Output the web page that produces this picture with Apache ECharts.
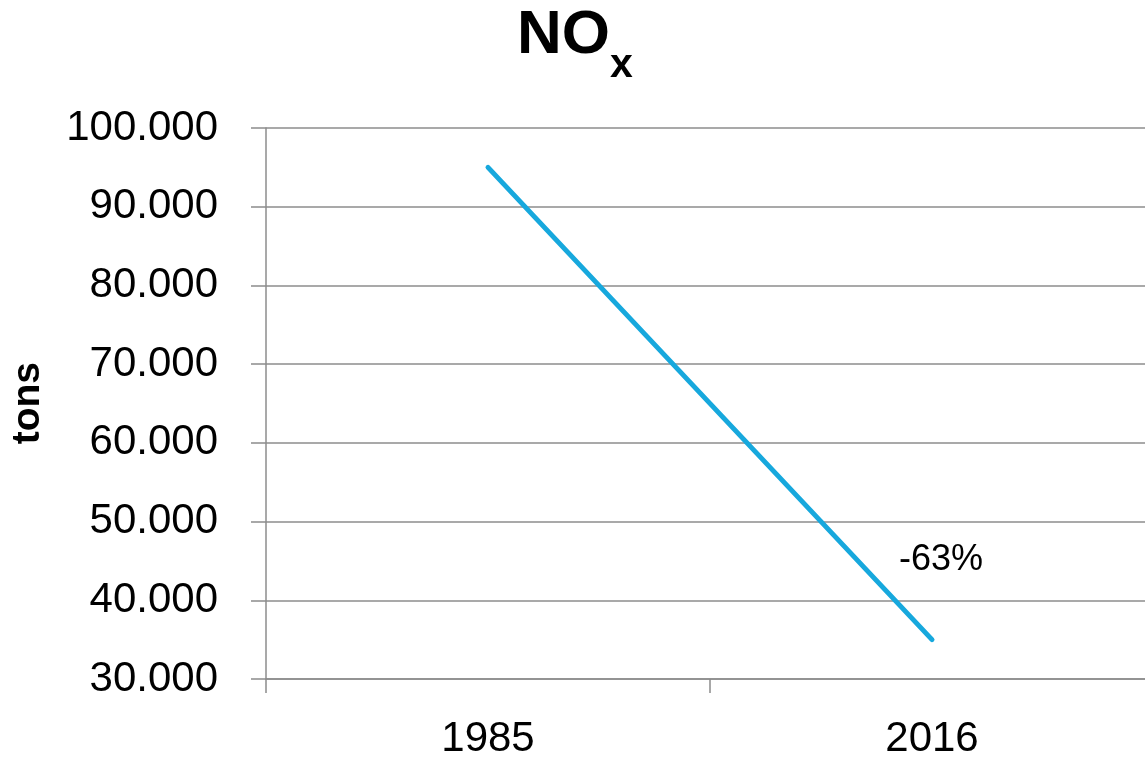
<!DOCTYPE html>
<html>
<head>
<meta charset="utf-8">
<script src="https://cdn.jsdelivr.net/npm/echarts@6/dist/echarts.min.js"></script>
<style>
html,body{margin:0;padding:0;background:#fff;overflow:hidden;width:1145px;height:760px;}
#chart{width:1154px;height:760px;}
</style>
</head>
<body>
<div id="chart"></div>
<script>
const categories = ['1985', '2016'];
const noxValues = [95000, 35000];
const yTicks = { min: 30000, max: 100000, interval: 10000 };
const titleMain = 'NO';
const titleSub = 'x';
const yAxisName = 'tons';

const changePct = Math.round((noxValues[1] - noxValues[0]) / noxValues[0] * 100);
const FONT = '"Liberation Sans", Arial, sans-serif';

function fmt(v) {
  return String(v).replace(/\B(?=(\d{3})+(?!\d))/g, '.');
}

const chart = echarts.init(document.getElementById('chart'), null, { renderer: 'canvas' });
chart.setOption({
  animation: false,
  backgroundColor: '#ffffff',
  grid: { left: 266, right: 0, top: 128, bottom: 80, containLabel: false },
  graphic: [
    { type: 'text', left: 517, top: 5, style: { text: titleMain, font: 'bold 62px ' + FONT, fill: '#000' } },
    { type: 'text', left: 610, top: 45, style: { text: titleSub, font: 'bold 41px ' + FONT, fill: '#000' } },
    { type: 'text', left: 9, top: 362, rotation: Math.PI / 2, style: { text: yAxisName, font: 'bold 39px ' + FONT, fill: '#000' } }
  ],
  xAxis: {
    type: 'category',
    data: categories,
    boundaryGap: true,
    axisLine: { show: true, lineStyle: { color: '#8c8c8c', width: 1.5 } },
    axisTick: { show: true, length: 14, inside: false, lineStyle: { color: '#8c8c8c', width: 1.5 } },
    axisLabel: { color: '#000', fontSize: 42, fontFamily: FONT, margin: 39 },
    splitLine: { show: false }
  },
  yAxis: {
    type: 'value',
    min: yTicks.min,
    max: yTicks.max,
    interval: yTicks.interval,
    axisLine: { show: true, lineStyle: { color: '#8c8c8c', width: 1.5 } },
    axisTick: { show: true, length: 15, lineStyle: { color: '#8c8c8c', width: 1.5 } },
    axisLabel: { color: '#000', fontSize: 42, fontFamily: FONT, margin: 48, formatter: fmt },
    splitLine: { show: true, lineStyle: { color: '#8c8c8c', width: 1.5 } }
  },
  series: [{
    type: 'line',
    data: noxValues.map((v, i) => i === noxValues.length - 1 ? {
      value: v,
      label: {
        show: true,
        formatter: changePct + '%',
        position: 'top',
        offset: [9, -56],
        color: '#000',
        fontSize: 36,
        fontFamily: FONT
      }
    } : v),
    symbol: 'circle',
    symbolSize: 1,
    showSymbol: true,
    lineStyle: { color: '#17a8dd', width: 5, cap: 'round' },
    itemStyle: { color: 'rgba(0,0,0,0)', borderWidth: 0 }
  }]
});
</script>
</body>
</html>
